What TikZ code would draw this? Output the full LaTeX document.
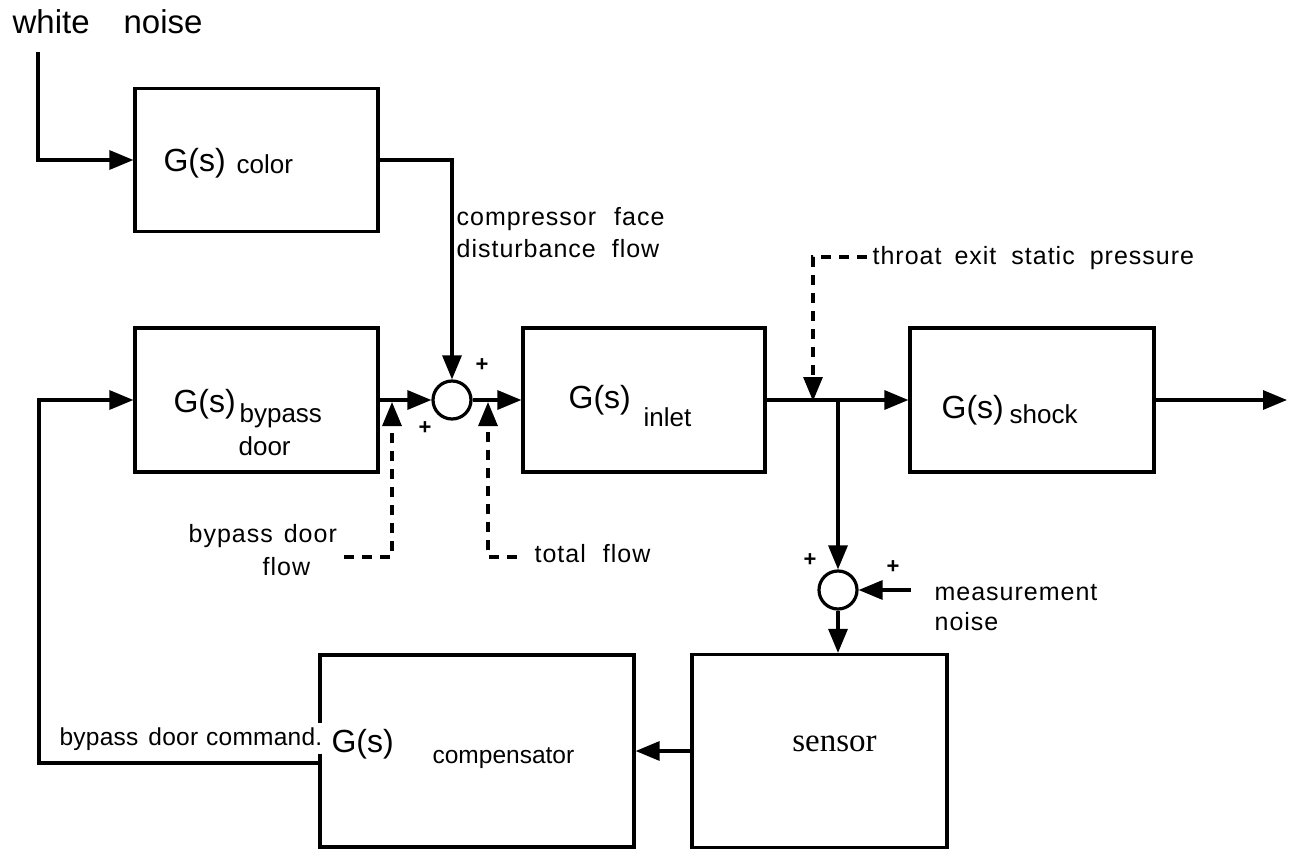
\documentclass[tikz,border=0pt]{standalone}
\usepackage{fontspec}
\setmainfont{Liberation Sans}
\newfontfamily\lblfam[LetterSpace=4]{Liberation Sans}
\newfontfamily\cmdfam[LetterSpace=1]{Liberation Sans}
\newfontfamily\serfam{Liberation Serif}
\usetikzlibrary{arrows.meta}
\newcommand\Gfont{\fontsize{32}{36}\selectfont}
\newcommand\Sfont{\fontsize{26}{28}\selectfont}
\newcommand\Lfont{\lblfam\fontsize{25}{28}\selectfont}
\begin{document}
\begin{tikzpicture}[x=1pt,y=-1pt,line width=3.2pt,
  blk/.style={draw,rectangle,inner sep=0pt,line width=3.2pt},
  sumj/.style={draw,circle,minimum size=38pt,inner sep=0pt,line width=3.2pt},
  arr/.style={-{Triangle[length=24pt,width=19pt]}},
  dsh/.style={dash pattern=on 10pt off 8pt},
  txt/.style={anchor=base west,inner sep=0pt},
  gtxt/.style={txt,font=\Gfont},
  stxt/.style={txt,font=\Sfont},
  ltxt/.style={txt,font=\Lfont},
  pl/.style={font=\bfseries\fontsize{22}{24}\selectfont,inner sep=0pt}]
\useasboundingbox (0,0) rectangle (1290,850);
\fill[white] (0,0) rectangle (1290,850);

% blocks
\node[blk,minimum width=243pt,minimum height=143pt] (color) at (256.5,160) {};
\node[blk,minimum width=243pt,minimum height=144pt] (byp) at (256.5,400) {};
\node[blk,minimum width=242pt,minimum height=144pt] (inlet) at (644,400) {};
\node[blk,minimum width=244pt,minimum height=144pt] (shock) at (1032,400) {};
\node[blk,minimum width=255pt,minimum height=193pt] (sensor) at (819.5,751) {};
\node[blk,minimum width=314pt,minimum height=192pt] (comp) at (477,751) {};
\node[sumj] (c1) at (452,400) {};
\node[sumj] (c2) at (838,590) {};

% free ends
\coordinate (wn) at (38,52);
\coordinate (br) at (838,400);
\coordinate (out) at (1287,400);
\coordinate (mn) at (911,590);
\coordinate (fb) at (39,763);
\coordinate (bd0) at (344,557);
\coordinate (bd1) at (392,557);
\coordinate (bd2) at (392,402);
\coordinate (tf0) at (517,557);
\coordinate (tf1) at (488,557);
\coordinate (tf2) at (488,402);
\coordinate (te0) at (867,257);
\coordinate (te1) at (813,257);
\coordinate (te2) at (813,401);

% solid connectors
\draw[arr] (wn) |- (color.west);
\draw[arr] (color.east) -| (c1.north);
\draw[arr] (byp.east) -- (c1.west);
\draw[arr] (c1.east) -- (inlet.west);
\draw[arr] (inlet.east) -- (shock.west);
\draw[arr] (shock.east) -- (out);
\draw[arr] (br) -- (c2.north);
\draw[arr] (mn) -- (c2.east);
\draw[arr] (c2.south) -- (c2.south |- sensor.north);
\draw[arr] (sensor.west) -- (comp.east);
\draw[arr] (comp.west |- fb) -- (fb) |- (byp.west);

% dashed connectors
\draw[arr,dsh] (bd0) -- (bd1) -- (bd2);
\draw[arr,dsh] (tf0) -- (tf1) -- (tf2);
\draw[arr,dsh] (te0) -- (te1) -- (te2);

% texts in blocks
\node[gtxt] (gcol) at (162,172) {G(s)};
\node[stxt] (scol) at (235,174) {color};
\node[gtxt] (gbyp) at (172,412) {G(s)};
\node[stxt] (sbyp) at (238,422) {bypass};
\node[stxt] (sdoor) at (237,455) {door};
\node[gtxt] (ginl) at (567,408) {G(s)};
\node[stxt] (sinl) at (642,426) {inlet};
\node[gtxt] (gsho) at (940,418) {G(s)};
\node[stxt] (ssho) at (1008,423) {shock};
\node[anchor=base,inner sep=0pt,font=\serfam\fontsize{33}{36}\selectfont] (tsen) at (834.5,751) {sensor};

% labels
\node[txt,font=\fontsize{33}{36}\selectfont] (twn) at (11,34) {white\hspace{34pt}noise};
\node[ltxt] (tcf1) at (455,226) {compressor\hspace{18pt}face};
\node[ltxt] (tcf2) at (455,258) {disturbance\hspace{16pt}flow};
\node[ltxt] (tte) at (871,265) {throat\hspace{13pt}exit\hspace{15pt}static\hspace{15pt}pressure};
\node[ltxt] (tbd1) at (187,542) {bypass\hspace{11pt}door};
\node[ltxt] (tbd2) at (261,575) {flow};
\node[ltxt] (ttf) at (533,562) {total\hspace{17pt}flow};
\node[ltxt] (tmn1) at (933,600) {measurement};
\node[ltxt] (tmn2) at (933,630) {noise};
\node[anchor=base west,fill=white,inner xsep=2pt,inner ysep=4pt,font=\cmdfam\fontsize{24.5}{28}\selectfont] (tcmd) at (56,745) {bypass\hspace{10pt}door\hspace{8pt}command.};
\node[gtxt] (gcmp) at (330,752) {G(s)};
\node[txt,font=\fontsize{24.5}{28}\selectfont] (scmp) at (431,763) {compensator};

% signs
\node[pl] (p1) at (482,365) {+};
\node[pl] (p2) at (425,428) {+};
\node[pl] (p3) at (810,560) {+};
\node[pl] (p4) at (893,567) {+};
\end{tikzpicture}
\end{document}
